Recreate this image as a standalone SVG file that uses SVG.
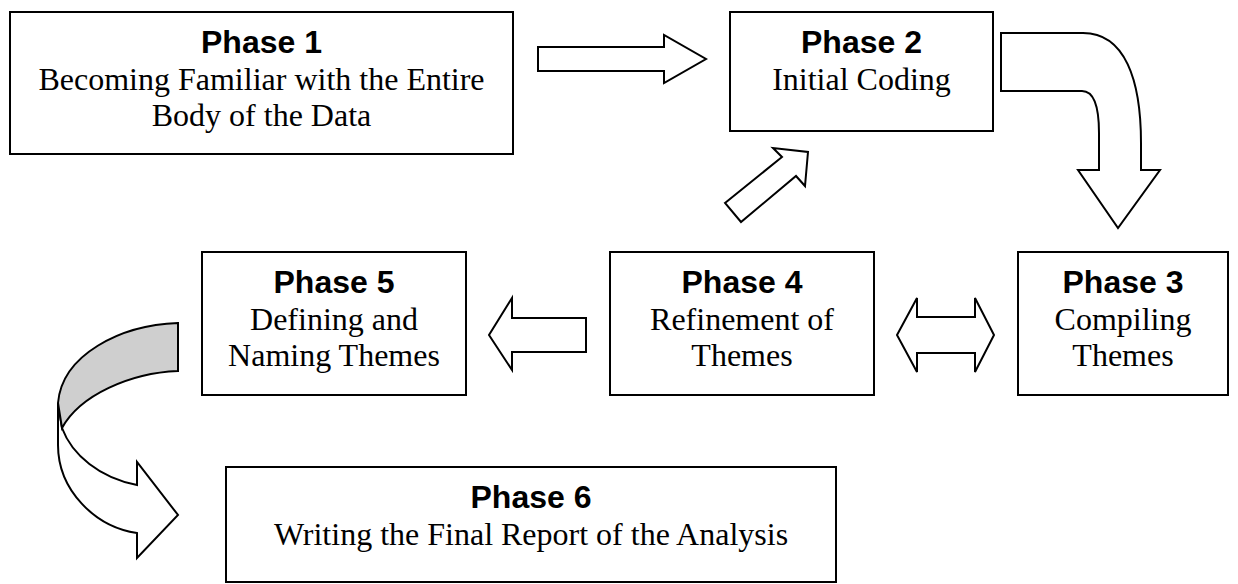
<svg xmlns="http://www.w3.org/2000/svg" width="1238" height="584" viewBox="0 0 1238 584">
  <style>
    .box { fill: #ffffff; stroke: #000000; stroke-width: 2; }
    .arrow { fill: #ffffff; stroke: #000000; stroke-width: 2; stroke-linejoin: miter; }
    .shade { fill: #cfcfcf; stroke: #000000; stroke-width: 2; }
    .title { font-family: "Liberation Sans", Arial, sans-serif; font-weight: bold; font-size: 32px; text-anchor: middle; fill: #000000; }
    .body { font-family: "Liberation Serif", "Times New Roman", serif; font-size: 32px; text-anchor: middle; fill: #000000; }
  </style>
  <rect width="1238" height="584" fill="#ffffff"/>

  <!-- block arrows between the phases -->
  <g id="connectors">
    <!-- phase 1 to phase 2 -->
    <path class="arrow" d="M538,47 L664,47 L664,35 L706,59 L664,83 L664,71 L538,71 Z"/>
    <!-- phase 2 bending down to phase 3 -->
    <path class="arrow" d="M1001,33 L1083,33 C1125,33 1141,80 1141,143 L1141,170 L1160,170 L1118,228 L1078,170 L1099,170 L1099,133 C1099,110 1095,91 1082,91 L1001,91 Z"/>
    <!-- phase 3 and phase 4 both ways -->
    <path class="arrow" d="M897,335 L917,298 L917,317 L975,317 L975,298 L994,335 L975,372 L975,353 L917,353 L917,372 Z"/>
    <!-- phase 4 back up to phase 2 -->
    <path class="arrow" d="M725,203 L782,157 L773,148 L808,152 L805,186 L796,176 L741,222 Z"/>
    <!-- phase 4 to phase 5 -->
    <path class="arrow" d="M586,318 L512,318 L512,298 L489,335 L512,370 L512,352 L586,352 Z"/>
    <!-- phase 5 curling round to phase 6 -->
    <path class="arrow" d="M58,403 L58,445 C58,490 95,527 137,533 L137,558 L178,515 L137,462 L137,485 C100,478 72,455 62,428 Z"/>
    <path class="shade" d="M178,323 C120,325 62,355 58,403 L62,428 C80,395 130,373 178,371 Z"/>
  </g>

  <g id="phase1">
    <rect class="box" x="10" y="12" width="503" height="142"/>
    <text class="title" x="261.5" y="53">Phase 1</text>
    <text class="body" x="261.5" y="90">Becoming Familiar with the Entire</text>
    <text class="body" x="261.5" y="126">Body of the Data</text>
  </g>

  <g id="phase2">
    <rect class="box" x="730" y="12" width="263" height="119"/>
    <text class="title" x="861.5" y="53">Phase 2</text>
    <text class="body" x="861.5" y="90">Initial Coding</text>
  </g>

  <g id="phase3">
    <rect class="box" x="1018" y="252" width="210" height="143"/>
    <text class="title" x="1123" y="293">Phase 3</text>
    <text class="body" x="1123" y="330">Compiling</text>
    <text class="body" x="1123" y="366">Themes</text>
  </g>

  <g id="phase4">
    <rect class="box" x="610" y="252" width="264" height="143"/>
    <text class="title" x="742" y="293">Phase 4</text>
    <text class="body" x="742" y="330">Refinement of</text>
    <text class="body" x="742" y="366">Themes</text>
  </g>

  <g id="phase5">
    <rect class="box" x="202" y="252" width="264" height="143"/>
    <text class="title" x="334" y="293">Phase 5</text>
    <text class="body" x="334" y="330">Defining and</text>
    <text class="body" x="334" y="366">Naming Themes</text>
  </g>

  <g id="phase6">
    <rect class="box" x="226" y="467" width="610" height="115"/>
    <text class="title" x="531" y="508">Phase 6</text>
    <text class="body" x="531" y="545">Writing the Final Report of the Analysis</text>
  </g>
</svg>
